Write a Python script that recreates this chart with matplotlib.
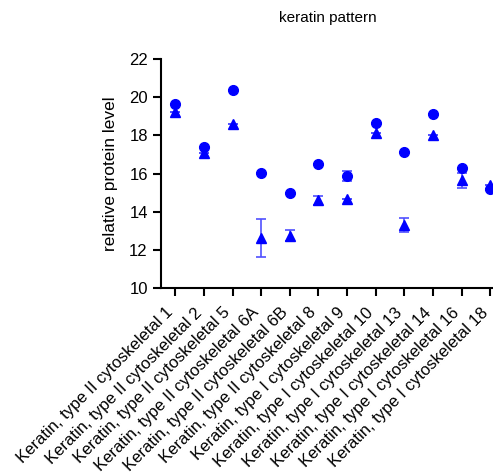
import matplotlib
matplotlib.use("Agg")
import matplotlib.pyplot as plt
import matplotlib.transforms as mtransforms
import numpy as np

plt.rcParams['font.family'] = ['Liberation Sans', 'DejaVu Sans']

labels = ["Keratin, type II cytoskeletal 1", "Keratin, type II cytoskeletal 2",
          "Keratin, type II cytoskeletal 5", "Keratin, type II cytoskeletal 6A",
          "Keratin, type II cytoskeletal 6B", "Keratin, type II cytoskeletal 8",
          "Keratin, type I cytoskeletal 9", "Keratin, type I cytoskeletal 10",
          "Keratin, type I cytoskeletal 13", "Keratin, type I cytoskeletal 14",
          "Keratin, type I cytoskeletal 16", "Keratin, type I cytoskeletal 18"]

circle_mean = [19.67, 17.40, 20.37, 16.05, 15.00, 16.51, 15.86, 18.66, 17.12, 19.13, 16.28, 15.20]
circle_err = [0, 0, 0, 0, 0, 0, 0.25, 0, 0, 0, 0, 0]
tri_mean = [19.24, 17.10, 18.59, 12.64, 12.75, 14.60, 14.67, 18.12, 13.32, 18.03, 15.65, 15.42]
tri_err = [0, 0, 0, 1.0, 0.3, 0.25, 0, 0, 0.36, 0, 0.4, 0]

fig = plt.figure(figsize=(4.93, 4.73), dpi=100)
ax = fig.add_axes([0.3266, 0.391, 0.6734, 0.484])

x = np.arange(len(labels))
ax.errorbar(x, circle_mean, yerr=circle_err, fmt='o', color='#0000ff', ms=7,
            ecolor='#5050ff', elinewidth=1.2, capsize=3.5, capthick=1.2, clip_on=False)
ax.errorbar(x, tri_mean, yerr=tri_err, fmt='^', color='#0000ff', ms=7,
            ecolor='#5050ff', elinewidth=1.2, capsize=3.5, capthick=1.2, clip_on=False)

ax.set_ylim(10, 22)
ax.set_yticks(np.arange(10, 23, 2))
ax.set_xlim(-0.5, 11.1)
ax.set_xticks(x)
ax.tick_params(axis='y', labelsize=12, width=1.5, length=6)
ax.tick_params(axis='x', width=1.5, length=6)
ax.set_xticklabels(labels, rotation=45, ha='right', va='center',
                   rotation_mode='anchor', fontsize=12)
# nudge the tick labels down/left (after tick_params, which resets transforms)
offset = mtransforms.ScaledTranslation(-0.045, -0.09, fig.dpi_scale_trans)
for lab in ax.get_xticklabels():
    lab.set_transform(lab.get_transform() + offset)
for s in ['top', 'right']:
    ax.spines[s].set_visible(False)
for s in ['left', 'bottom']:
    ax.spines[s].set_linewidth(1.5)
ax.set_ylabel("relative protein level", fontsize=12.5, labelpad=8)
fig.text(0.665, 0.962, "keratin pattern", ha='center', va='center', fontsize=11)

fig.savefig("out.png", dpi=100)
